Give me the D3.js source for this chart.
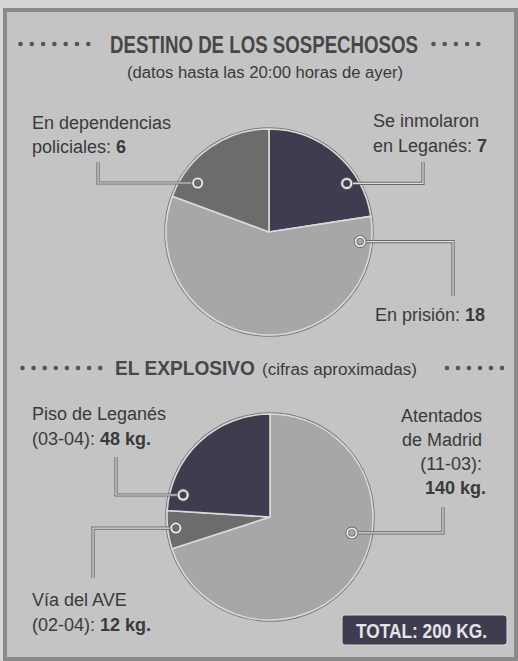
<!DOCTYPE html>
<html>
<head>
<meta charset="utf-8">
<script src="https://cdn.jsdelivr.net/npm/d3@7/dist/d3.min.js"></script>
<style>
html,body{margin:0;padding:0;background:#d6d6d6;}
svg{display:block;}
text{font-family:"Liberation Sans",Arial,sans-serif;}
</style>
</head>
<body>
<svg id="chart" width="518" height="661"></svg>
<script>
// ---- data ----
const title1 = "DESTINO DE LOS SOSPECHOSOS";
const subtitle1 = "(datos hasta las 20:00 horas de ayer)";
const suspectCategories = ["Se inmolaron en Leganés", "En prisión", "En dependencias policiales"];
const suspectValues = [7, 18, 6];
const suspectLabelLines = [["Se inmolaron", "en Leganés: "], ["En prisión: "], ["En dependencias", "policiales: "]];
const suspectValueText = ["7", "18", "6"];

const title2 = "EL EXPLOSIVO";
const subtitle2 = "(cifras aproximadas)";
const explosiveCategories = ["Atentados de Madrid (11-03)", "Vía del AVE (02-04)", "Piso de Leganés (03-04)"];
const explosiveValues = [140, 12, 48];
const explosiveLabelLines = [["Atentados", "de Madrid", "(11-03):"], ["Vía del AVE", "(02-04): "], ["Piso de Leganés", "(03-04): "]];
const explosiveValueText = ["140 kg.", "12 kg.", "48 kg."];
const totalText = "TOTAL: 200 KG.";

// ---- styles / layout ----
const svg = d3.select("#chart");
const textColor = "#3a3a3a";
const shade = {dark: "#3e3d50", mid: "#6c6c6c", light: "#a7a7a7"};

svg.append("rect").attr("x", 0).attr("y", 0).attr("width", 518).attr("height", 661).attr("fill", "#d6d6d6");
svg.append("rect").attr("x", 5).attr("y", 10).attr("width", 511).attr("height", 649)
  .attr("fill", "#c4c4c4").attr("stroke", "#8a8a8a").attr("stroke-width", 4);

function fitText(sel, w) {
  sel.attr("textLength", w).attr("lengthAdjust", "spacingAndGlyphs");
}
function dots(x0, step, n, y) {
  svg.append("g").selectAll("circle").data(d3.range(n)).join("circle")
    .attr("cx", i => x0 + i * step).attr("cy", y).attr("r", 2.3).attr("fill", "#555");
}

// Titles
svg.append("text").attr("x", 110).attr("y", 53).attr("font-size", 24).attr("font-weight", "bold")
  .attr("fill", "#474747").text(title1).call(fitText, 308);
svg.append("text").attr("x", 127).attr("y", 78).attr("font-size", 16)
  .attr("fill", textColor).text(subtitle1).call(fitText, 276);
dots(20.5, 11.3, 7, 44);
dots(433.5, 11.2, 5, 44);

svg.append("text").attr("x", 115).attr("y", 375).attr("font-size", 21).attr("font-weight", "bold")
  .attr("fill", "#474747").text(title2).call(fitText, 140);
svg.append("text").attr("x", 262).attr("y", 375).attr("font-size", 16)
  .attr("fill", textColor).text(subtitle2).call(fitText, 155);
dots(22.5, 11.1, 8, 368);
dots(447, 11, 6, 368);

// Pie helper
function drawPie(cfg) {
  const r = cfg.r;
  const g = svg.append("g").attr("transform", `translate(${cfg.cx},${cfg.cy})`);
  const pie = d3.pie().sort(null).value(d => d.value);
  const arcs = pie(cfg.data);
  const arc = d3.arc().innerRadius(0).outerRadius(r);
  g.append("circle").attr("r", r + 1.2).attr("fill", "none").attr("stroke", "#7a7a7a").attr("stroke-width", 1.2);
  g.selectAll("path").data(arcs).join("path")
    .attr("d", arc).attr("fill", d => d.data.color)
    .attr("stroke", "#d9d9d9").attr("stroke-width", 1.6).attr("stroke-linejoin", "round");

  // callouts
  const rad = d3.scaleLinear().domain([0, 1]).range([0, r]);
  arcs.forEach((a, i) => {
    const c = cfg.callouts[i];
    const ang = c.angle * Math.PI / 180;
    const mx = cfg.cx + Math.sin(ang) * rad(c.rf);
    const my = cfg.cy - Math.cos(ang) * rad(c.rf);
    const pts = [[mx, my], [c.ex, my], [c.ex, c.ey]];
    const line = d3.line();
    svg.append("path").attr("d", line(pts)).attr("fill", "none").attr("stroke", "#6a6a6a").attr("stroke-width", 3.2);
    svg.append("path").attr("d", line(pts)).attr("fill", "none").attr("stroke", "#dedede").attr("stroke-width", 1.2);
    svg.append("circle").attr("cx", mx).attr("cy", my).attr("r", 4.6).attr("fill", a.data.color)
      .attr("stroke", "#6a6a6a").attr("stroke-width", 3.6);
    svg.append("circle").attr("cx", mx).attr("cy", my).attr("r", 4.6).attr("fill", "none")
      .attr("stroke", "#ececec").attr("stroke-width", 1.8);

    const t = svg.append("text").attr("font-size", 18).attr("fill", textColor)
      .attr("text-anchor", c.anchor || "start");
    const lines = a.data.lines;
    lines.forEach((ln, j) => {
      t.append("tspan").attr("x", c.tx).attr("y", c.ty + j * c.lh).text(ln);
      if (j === lines.length - 1 && !c.valueOwnLine) {
        t.append("tspan").attr("font-weight", "bold").text(a.data.valueText);
      }
    });
    if (c.valueOwnLine) {
      t.append("tspan").attr("x", c.vx).attr("y", c.ty + lines.length * c.lh)
        .attr("font-weight", "bold").text(a.data.valueText);
    }
  });
}

const suspectColors = [shade.dark, shade.light, shade.mid];
drawPie({
  cx: 269, cy: 232, r: 103,
  data: suspectCategories.map((k, i) => ({key: k, value: suspectValues[i], color: suspectColors[i], lines: suspectLabelLines[i], valueText: suspectValueText[i]})),
  callouts: [
    {angle: 58, rf: 0.89, ex: 423, ey: 162, tx: 373, ty: 127, lh: 25},
    {angle: 96, rf: 0.89, ex: 453, ey: 296, tx: 375, ty: 321, lh: 24},
    {angle: 304.5, rf: 0.84, ex: 98, ey: 162, tx: 32, ty: 129, lh: 24}
  ]
});

const explosiveColors = [shade.light, shade.mid, shade.dark];
drawPie({
  cx: 270, cy: 517, r: 103,
  data: explosiveCategories.map((k, i) => ({key: k, value: explosiveValues[i], color: explosiveColors[i], lines: explosiveLabelLines[i], valueText: explosiveValueText[i]})),
  callouts: [
    {angle: 101, rf: 0.81, ex: 443, ey: 507, tx: 482, ty: 422, lh: 24, anchor: "end", valueOwnLine: true, vx: 486},
    {angle: 263.3, rf: 0.92, ex: 93, ey: 578, tx: 32, ty: 606, lh: 25},
    {angle: 284.2, rf: 0.87, ex: 116, ey: 457, tx: 32, ty: 420, lh: 25}
  ]
});

// Total box
svg.append("rect").attr("x", 342).attr("y", 615).attr("width", 165).attr("height", 30).attr("rx", 3)
  .attr("fill", "#3e3d50").attr("stroke", "#d8d8d8").attr("stroke-width", 1);
svg.append("text").attr("x", 356).attr("y", 638).attr("font-size", 20).attr("font-weight", "bold")
  .attr("fill", "#e4e4e4").text(totalText).call(fitText, 131);
</script>
</body>
</html>
